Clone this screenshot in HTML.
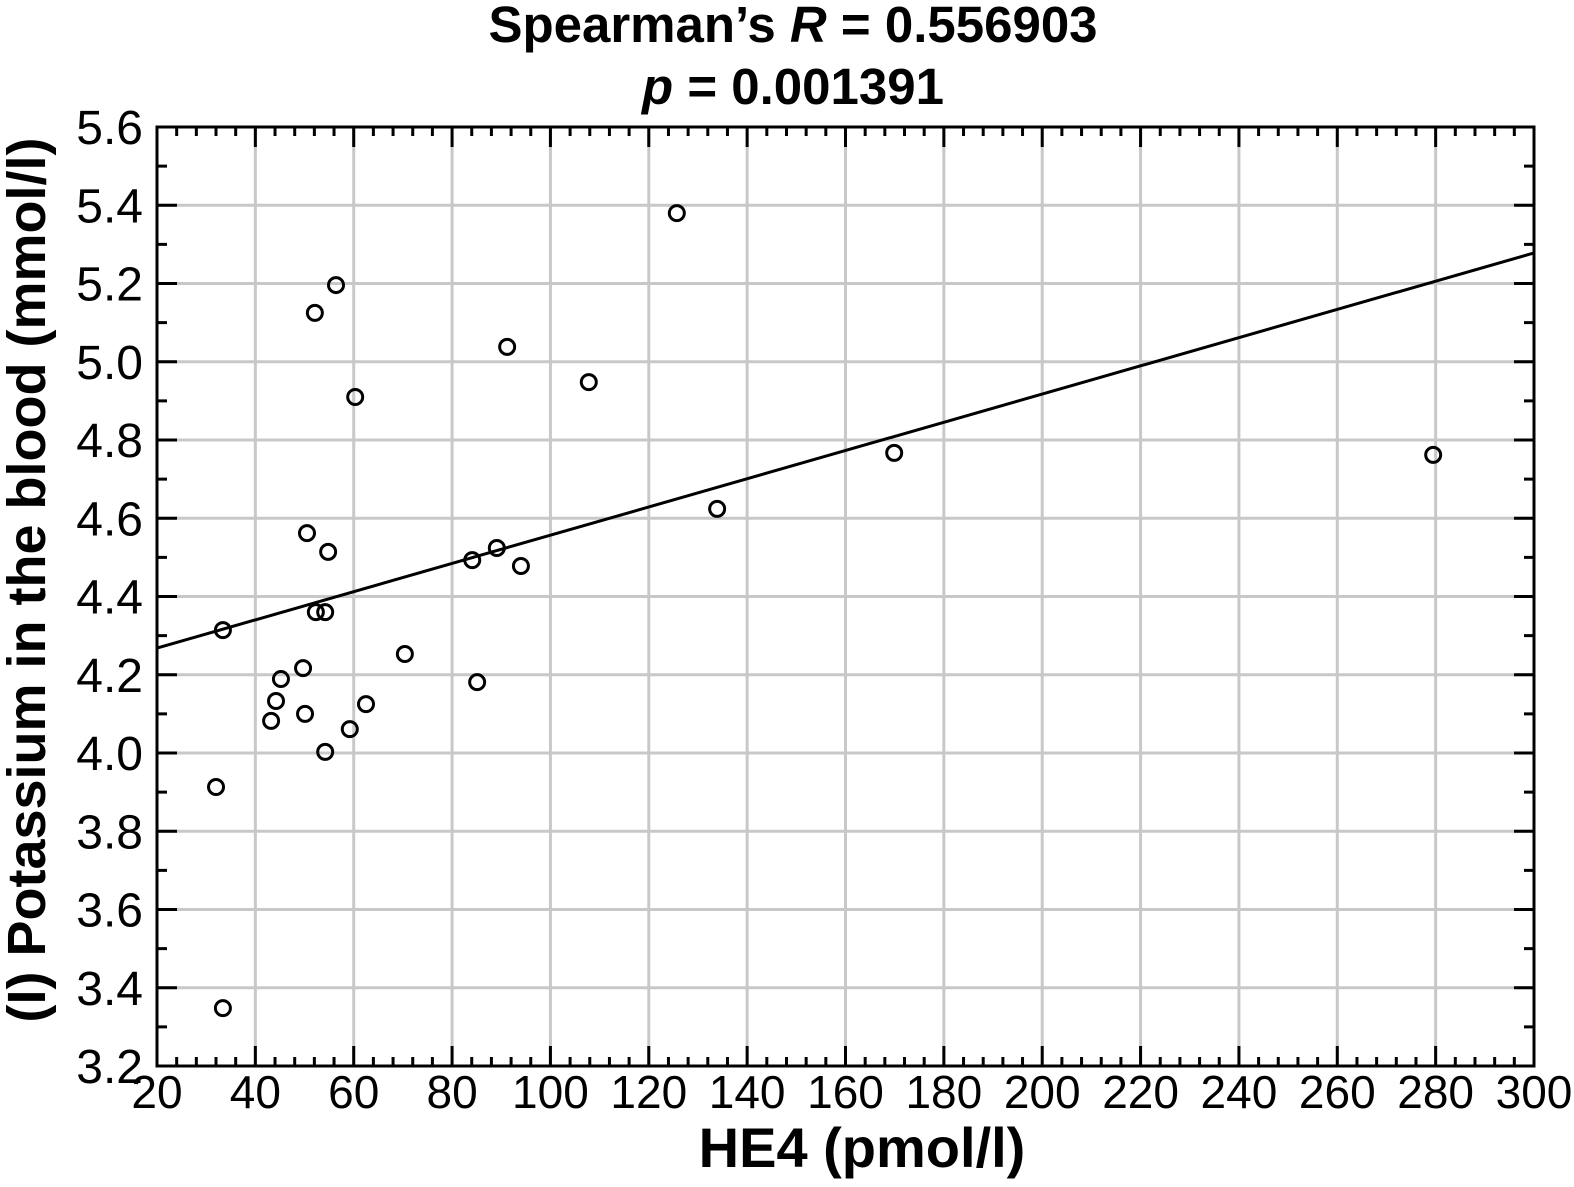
<!DOCTYPE html>
<html><head><meta charset="utf-8"><style>
html,body{margin:0;padding:0;background:#fff;}
svg{display:block;font-family:"Liberation Sans",sans-serif;}
</style></head><body>
<svg id="chart" width="1574" height="1187" viewBox="0 0 1574 1187" xmlns="http://www.w3.org/2000/svg">
<text x="793" y="42" text-anchor="middle" font-size="51" font-weight="bold" fill="#000">Spearman’s <tspan font-style="italic">R</tspan> = 0.556903</text>
<text x="793" y="104" text-anchor="middle" font-size="51" font-weight="bold" fill="#000"><tspan font-style="italic">p</tspan> = 0.001391</text>
<g id="grid"></g>
<g id="axes"></g>
<g id="marks"></g>
<text x="862" y="1167" text-anchor="middle" font-size="56" font-weight="bold" fill="#000">HE4 (pmol/l)</text>
<text transform="translate(45,580) rotate(-90)" text-anchor="middle" font-size="54" font-weight="bold" fill="#000">(I) Potassium in the blood (mmol/l)</text>
</svg>
<script>
const xValues = [125.7,56.4,52.1,91.2,107.8,60.3,169.9,279.5,133.9,50.5,54.8,84.1,89.1,94.0,33.4,52.3,54.2,70.4,49.7,45.2,44.2,85.1,62.5,50.1,43.2,59.2,54.2,32.0,33.4];
const yValues = [5.380,5.196,5.125,5.038,4.948,4.910,4.767,4.762,4.624,4.562,4.514,4.493,4.524,4.478,4.314,4.360,4.360,4.253,4.217,4.189,4.133,4.181,4.125,4.100,4.082,4.061,4.003,3.913,3.348];
const xTicks = [20,40,60,80,100,120,140,160,180,200,220,240,260,280,300];
const yTicks = [3.2,3.4,3.6,3.8,4.0,4.2,4.4,4.6,4.8,5.0,5.2,5.4,5.6];
const fitLine = [4.196, 0.003607];

const L=157,R=1534,T=127,B=1066;
const xMin=20,xMax=300,yMin=3.2,yMax=5.6;
const sx=v=>L+(v-xMin)/(xMax-xMin)*(R-L);
const sy=v=>B-(v-yMin)/(yMax-yMin)*(B-T);
const NS="http://www.w3.org/2000/svg";
function mk(tag,attrs,parent){const e=document.createElementNS(NS,tag);for(const k in attrs)e.setAttribute(k,attrs[k]);parent.appendChild(e);return e;}
const grid=document.getElementById('grid'),axes=document.getElementById('axes'),marks=document.getElementById('marks');
xTicks.forEach(t=>{
  const x=sx(t);
  if(t>xMin&&t<xMax){const g=mk('line',{x1:x,x2:x,y1:T,y2:B,stroke:'#c8c8c8','stroke-width':3},grid);
  
  }
  mk('line',{x1:x,x2:x,y1:B,y2:B-20,stroke:'#000','stroke-width':3},axes);
  mk('line',{x1:x,x2:x,y1:T,y2:T+20,stroke:'#000','stroke-width':3},axes);
  const lb=mk('text',{x:x,y:1108,'text-anchor':'middle','font-size':46,fill:'#000'},axes);
  lb.textContent=t;
  
  
});
for(let v=xMin;v<xMax;v+=4){ if((v-xMin)%20===0)continue; const x=sx(v);
  mk('line',{x1:x,x2:x,y1:B,y2:B-9,stroke:'#000','stroke-width':3},axes);
  mk('line',{x1:x,x2:x,y1:T,y2:T+9,stroke:'#000','stroke-width':3},axes);}
yTicks.forEach(t=>{
  const y=sy(t);
  if(t>yMin+0.01&&t<yMax-0.01){const g=mk('line',{x1:L,x2:R,y1:y,y2:y,stroke:'#c8c8c8','stroke-width':3},grid);
  
  }
  mk('line',{x1:L,x2:L+20,y1:y,y2:y,stroke:'#000','stroke-width':3},axes);
  mk('line',{x1:R,x2:R-20,y1:y,y2:y,stroke:'#000','stroke-width':3},axes);
  const lb=mk('text',{x:143,y:y+17,'text-anchor':'end','font-size':48,fill:'#000'},axes);
  lb.textContent=t.toFixed(1);
  
  
  const m=t+0.1; if(m<yMax){const ym=sy(m);
  mk('line',{x1:L,x2:L+10,y1:ym,y2:ym,stroke:'#000','stroke-width':3},axes);
  mk('line',{x1:R,x2:R-10,y1:ym,y2:ym,stroke:'#000','stroke-width':3},axes);}
});
const frame=mk('rect',{x:L,y:T,width:R-L,height:B-T,fill:'none',stroke:'#000','stroke-width':3},axes);


const fl=mk('line',{x1:L,y1:sy(fitLine[0]+fitLine[1]*xMin),x2:R,y2:sy(fitLine[0]+fitLine[1]*xMax),stroke:'#000','stroke-width':3},marks);


xValues.forEach((xv,i)=>{
  const c=mk('circle',{cx:sx(xv),cy:sy(yValues[i]),r:7.5,fill:'none',stroke:'#000','stroke-width':3},marks);
  
  
});
</script>
</body></html>
